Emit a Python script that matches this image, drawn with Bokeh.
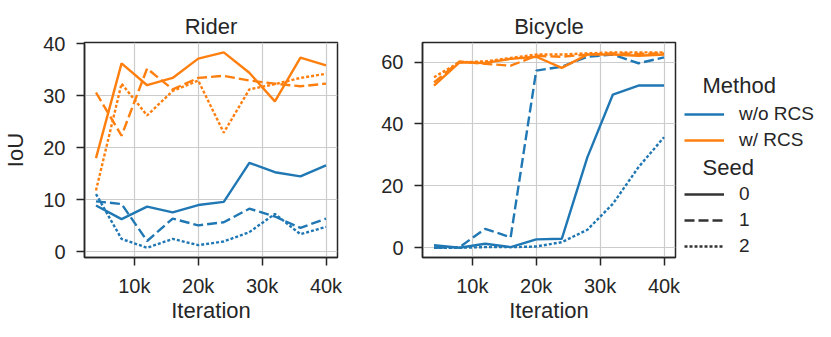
from bokeh.plotting import figure
from bokeh.models import Range1d, FixedTicker, Legend, LegendItem, Label
from bokeh.layouts import row
from bokeh.embed import file_html
from bokeh.resources import INLINE

# ---------------- data ----------------
iterations = [4000, 8000, 12000, 16000, 20000, 24000, 28000, 32000, 36000, 40000]
x_ticks = [10000, 20000, 30000, 40000]
x_tick_labels = ["10k", "20k", "30k", "40k"]
rider_y_ticks = [0, 10, 20, 30, 40]
bicycle_y_ticks = [0, 20, 40, 60]
methods = ["w/o RCS", "w/ RCS"]
seeds = ["0", "1", "2"]

# Rider IoU
rider_wo_s0 = [8.9, 6.3, 8.7, 7.6, 9.0, 9.6, 17.1, 15.3, 14.5, 16.6]
rider_wo_s1 = [9.7, 9.2, 2.1, 6.4, 5.1, 5.7, 8.3, 6.8, 4.6, 6.4]
rider_wo_s2 = [11.1, 2.5, 0.8, 2.5, 1.3, 2.0, 3.8, 7.3, 3.4, 4.8]
rider_w_s0 = [18.0, 36.2, 32.0, 33.4, 37.1, 38.3, 34.4, 28.9, 37.3, 35.8]
rider_w_s1 = [30.6, 22.3, 35.2, 31.2, 33.4, 33.8, 32.9, 32.3, 31.8, 32.3]
rider_w_s2 = [11.8, 32.3, 26.2, 30.9, 32.9, 22.9, 31.2, 32.2, 33.4, 34.2]

# Bicycle IoU
bicycle_wo_s0 = [0.8, 0.0, 1.3, 0.2, 2.7, 2.9, 29.2, 49.5, 52.4, 52.4]
bicycle_wo_s1 = [0.0, 0.2, 6.1, 3.4, 57.2, 58.5, 61.7, 62.4, 59.6, 61.5]
bicycle_wo_s2 = [0.0, 0.0, 0.2, 0.2, 0.4, 1.8, 5.8, 14.2, 26.0, 35.7]
bicycle_w_s0 = [52.4, 59.9, 59.7, 61.0, 61.7, 58.1, 62.4, 62.4, 62.0, 62.4]
bicycle_w_s1 = [53.4, 60.2, 59.4, 58.8, 62.0, 61.7, 62.4, 62.8, 62.6, 62.8]
bicycle_w_s2 = [55.1, 59.9, 60.2, 61.3, 62.4, 62.4, 62.8, 63.1, 63.1, 63.1]

# ---------------- styles ----------------
FONT = "Liberation Sans"
TXT = "#262626"
COLORS = {"w/o RCS": "#1f77b4", "w/ RCS": "#ff7f0e"}
DASHES = {"0": "solid", "1": "10 4", "2": "3 2"}
LW = 2.4

H = 337
TOP = 42
BOTTOM = 80


def style(p, y_ticks, ylabel=None):
    p.background_fill_color = "white"
    p.border_fill_color = "white"
    p.outline_line_color = TXT
    p.outline_line_width = 1.5
    p.outline_line_alpha = 1.0
    p.title.text_font = FONT
    p.title.text_font_size = "22px"
    p.title.text_font_style = "normal"
    p.title.text_color = TXT
    p.title.align = "center"
    p.title.standoff = 7
    p.xaxis.ticker = FixedTicker(ticks=x_ticks)
    p.xaxis.major_label_overrides = {t: l for t, l in zip(x_ticks, x_tick_labels)}
    p.yaxis.ticker = FixedTicker(ticks=y_ticks)
    p.xaxis.axis_label = "Iteration"
    if ylabel:
        p.yaxis.axis_label = ylabel
    for ax in (p.xaxis, p.yaxis):
        ax.axis_line_color = TXT
        ax.axis_line_width = 1.5
        ax.major_tick_line_color = TXT
        ax.major_tick_line_width = 1.5
        ax.major_tick_out = 8
        ax.major_tick_in = 0
        ax.minor_tick_line_color = None
        ax.major_label_text_font = FONT
        ax.major_label_text_font_size = "20px"
        ax.major_label_text_color = TXT
        ax.axis_label_text_font = FONT
        ax.axis_label_text_font_size = "22px"
        ax.axis_label_text_font_style = "normal"
        ax.axis_label_text_color = TXT
    p.yaxis.major_label_standoff = 11
    p.xaxis.major_label_standoff = 9
    p.yaxis.axis_label_standoff = 12
    p.xaxis.axis_label_standoff = -2
    p.grid.grid_line_color = "#cccccc"
    p.grid.grid_line_width = 1.2


def draw(p, series):
    for (m, s), ys in series:
        p.line(iterations, ys, line_color=COLORS[m], line_width=LW, line_dash=DASHES[s])


p1 = figure(width=347, height=H, title="Rider", x_range=Range1d(2200, 41800),
            y_range=Range1d(-1.07, 40.2), toolbar_location=None, output_backend="svg",
            min_border_left=83, min_border_right=10, min_border_top=TOP, min_border_bottom=BOTTOM)
style(p1, rider_y_ticks, "IoU")
draw(p1, [
    (("w/o RCS", "0"), rider_wo_s0), (("w/o RCS", "1"), rider_wo_s1), (("w/o RCS", "2"), rider_wo_s2),
    (("w/ RCS", "0"), rider_w_s0), (("w/ RCS", "1"), rider_w_s1), (("w/ RCS", "2"), rider_w_s2),
])

p2 = figure(width=333, height=H, title="Bicycle", x_range=Range1d(2200, 41800),
            y_range=Range1d(-3.15, 66.3), toolbar_location=None, output_backend="svg",
            min_border_left=75, min_border_right=5, min_border_top=TOP, min_border_bottom=BOTTOM)
style(p2, bicycle_y_ticks)
draw(p2, [
    (("w/o RCS", "0"), bicycle_wo_s0), (("w/o RCS", "1"), bicycle_wo_s1), (("w/o RCS", "2"), bicycle_wo_s2),
    (("w/ RCS", "0"), bicycle_w_s0), (("w/ RCS", "1"), bicycle_w_s1), (("w/ RCS", "2"), bicycle_w_s2),
])

# ---------------- legend panel ----------------
p3 = figure(width=151, height=H, x_range=Range1d(0, 1), y_range=Range1d(0, 1),
            toolbar_location=None, output_backend="svg",
            min_border_left=0, min_border_right=0, min_border_top=TOP, min_border_bottom=BOTTOM,
            x_axis_location=None, y_axis_location=None)
p3.outline_line_color = None
p3.grid.visible = False
p3.background_fill_color = "white"
p3.border_fill_color = "white"

nan = float("nan")
method_items = []
for m in methods:
    r = p3.line([nan], [nan], line_color=COLORS[m], line_width=LW)
    method_items.append(LegendItem(label=m, renderers=[r]))
seed_items = []
for s in seeds:
    r = p3.line([nan], [nan], line_color="#333333", line_width=LW, line_dash=DASHES[s])
    seed_items.append(LegendItem(label=s, renderers=[r]))


def make_legend(items, loc):
    return Legend(items=items, location=loc, orientation="vertical",
                  glyph_width=40, glyph_height=20, label_height=20, label_standoff=15,
                  spacing=4, padding=0, margin=0, border_line_color=None,
                  background_fill_alpha=0, label_text_font=FONT, label_text_font_size="19px",
                  label_text_color=TXT)


def section_title(text, y):
    return Label(x=22, y=y, x_units="screen", y_units="screen", text=text,
                 text_font=FONT, text_font_size="22px", text_color=TXT,
                 text_align="left", text_baseline="middle")


p3.add_layout(make_legend(method_items, (4, 106)))
p3.add_layout(make_legend(seed_items, (4, 0)))
p3.add_layout(section_title("Method", 172))
p3.add_layout(section_title("Seed", 90))

layout = row(p1, p2, p3)
open("out.html", "w").write(file_html(layout, INLINE))
